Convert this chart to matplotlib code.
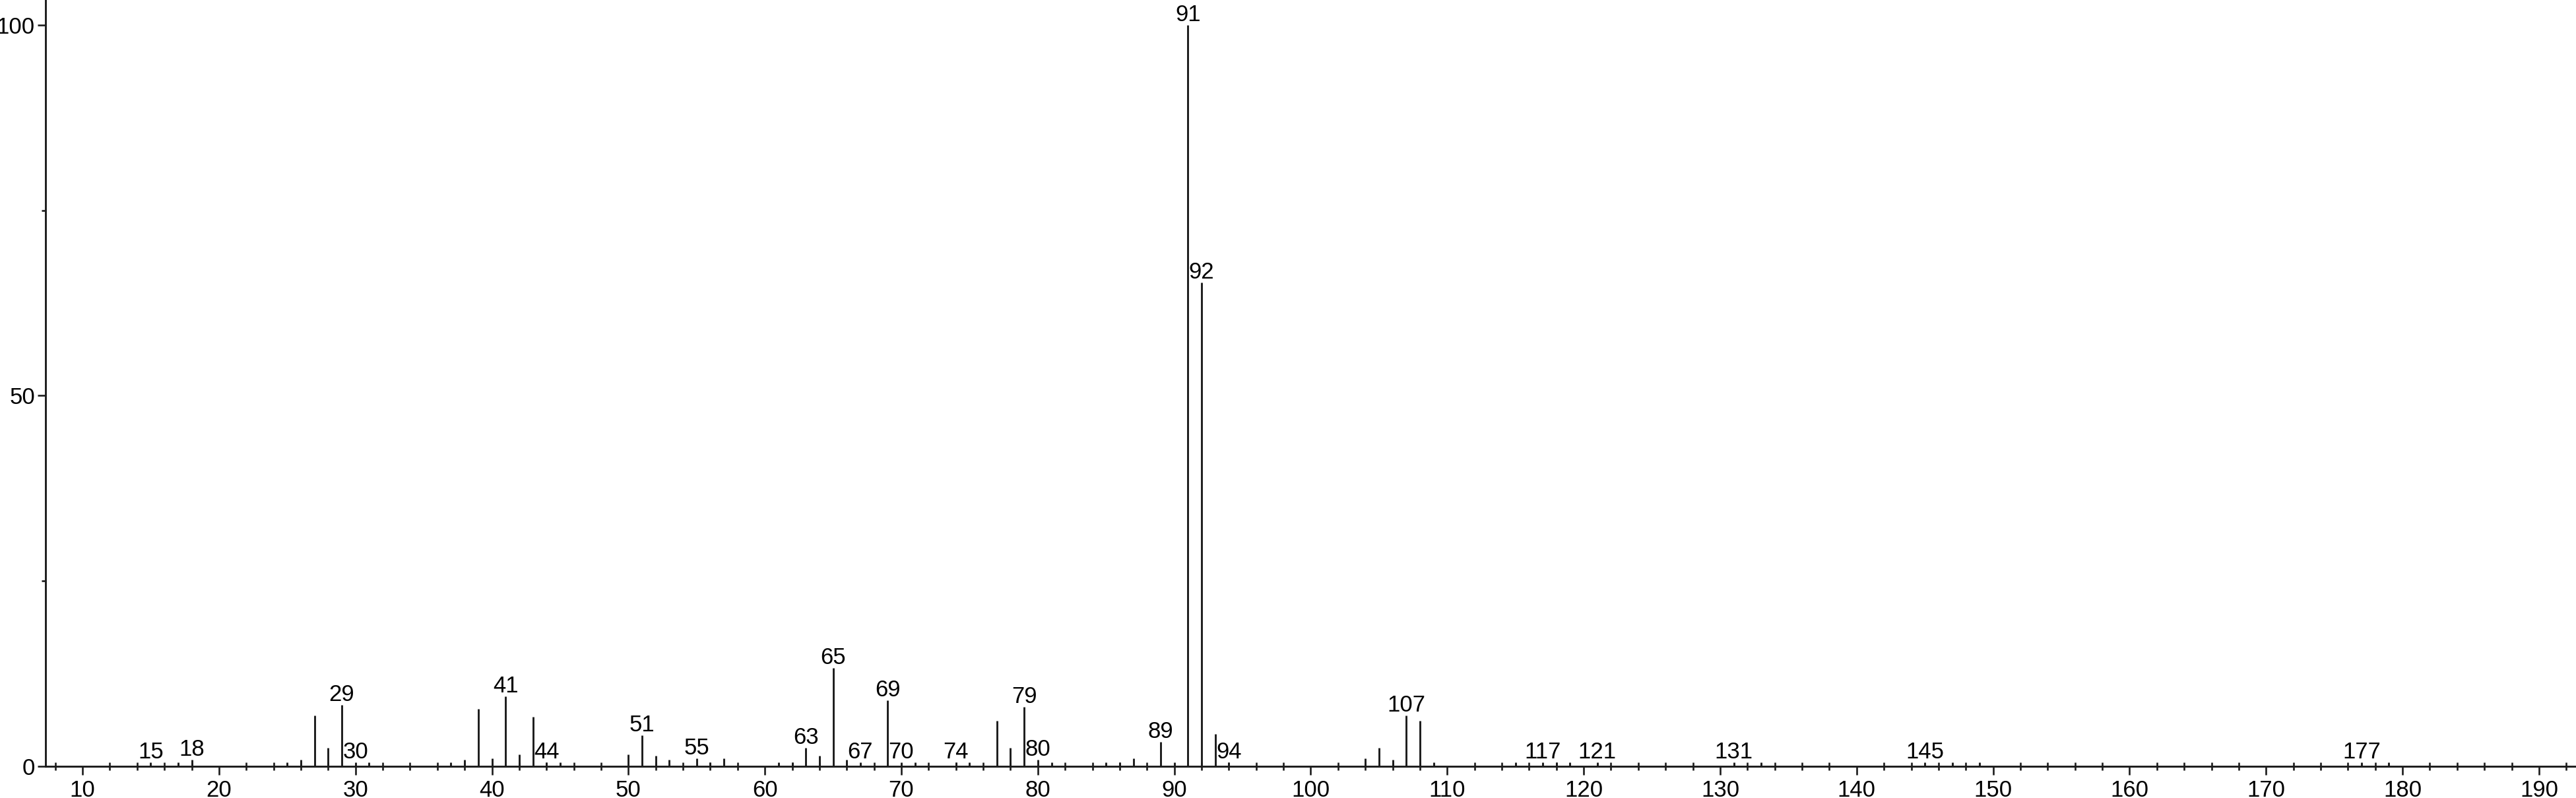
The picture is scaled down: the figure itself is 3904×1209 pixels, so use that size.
import numpy as np
import matplotlib
matplotlib.use('Agg')
import matplotlib.pyplot as plt

# m/z values and relative intensities
mz = [15, 17, 18, 25, 26, 27, 28, 29, 30, 31,
      37, 38, 39, 40, 41, 42, 43, 44, 45,
      50, 51, 52, 53, 55, 56, 57,
      61, 62, 63, 64, 65, 66, 67, 69, 70, 71,
      74, 75, 77, 78, 79, 80, 81,
      85, 86, 87, 89, 90, 91, 92, 93, 94,
      104, 105, 106, 107, 108, 109,
      115, 117, 118, 119, 121, 131, 133,
      145, 147, 149, 177, 179]
intensity = [0.5, 0.5, 0.9, 0.5, 0.85, 6.9, 2.5, 8.3, 0.5, 0.5,
             0.5, 0.9, 7.75, 1.1, 9.4, 1.6, 6.65, 0.5, 0.5,
             1.6, 4.15, 1.4, 0.85, 1.07, 0.5, 1.07,
             0.5, 0.5, 2.5, 1.4, 13.3, 0.85, 0.5, 8.9, 0.5, 0.5,
             0.5, 0.5, 6.1, 2.5, 8.0, 0.85, 0.5,
             0.5, 0.5, 1.1, 3.3, 0.5, 100.0, 65.3, 4.4, 0.5,
             1.1, 2.5, 0.85, 6.9, 6.1, 0.5,
             0.5, 0.5, 0.5, 0.5, 0.5, 0.5, 0.5,
             0.5, 0.5, 0.5, 0.5, 0.5]

# peaks that carry a m/z label
labeled = [15, 18, 29, 30, 41, 44, 51, 55, 63, 65, 67, 69, 70, 74, 79,
           80, 89, 91, 92, 94, 107, 117, 121, 131, 145, 177]

x_ticks = list(range(10, 191, 10))
y_ticks = [0, 50, 100]
y_minor = [25, 75]

ink = '#1c1c1c'
font = ['Liberation Sans Narrow', 'Liberation Sans', 'DejaVu Sans']
plt.rcParams['font.family'] = font

fig = plt.figure(figsize=(39.05, 12.09), dpi=100, facecolor='w')
ax = fig.add_axes([69 / 3905, 48 / 1209, 1 - 69 / 3905, 1 - 48 / 1209])

# stick spectrum
ax.vlines(mz, 0, intensity, colors=ink, linewidth=2.1)

# labels above the peaks
lookup = dict(zip(mz, intensity))
for m in labeled:
    ax.annotate(str(m), xy=(m, lookup[m]), xytext=(0, 4.3), textcoords='offset points',
                ha='center', va='baseline', fontsize=25, color='k')

ax.set_xlim(7.29, 192.76)
ax.set_ylim(0, 103.38)

ax.spines['top'].set_visible(False)
ax.spines['right'].set_visible(False)
for s in ('left', 'bottom'):
    ax.spines[s].set_linewidth(2.1)
    ax.spines[s].set_color(ink)
    ax.spines[s].set_zorder(5)

ax.set_xticks(x_ticks)
ax.set_xticks(np.arange(8, 193, 2), minor=True)
ax.set_yticks(y_ticks)
ax.set_yticks(y_minor, minor=True)
ax.tick_params(axis='x', which='major', direction='out', length=9.6, width=1.9,
               color=ink, labelsize=25, pad=5)
ax.tick_params(axis='x', which='minor', direction='inout', length=8.6, width=1.9, color=ink)
ax.tick_params(axis='y', which='major', direction='out', length=8.6, width=1.9,
               color=ink, labelsize=25, pad=3)
ax.tick_params(axis='y', which='minor', direction='out', length=4.3, width=1.9, color=ink)

plt.savefig('out.png', dpi=100, facecolor='w')
